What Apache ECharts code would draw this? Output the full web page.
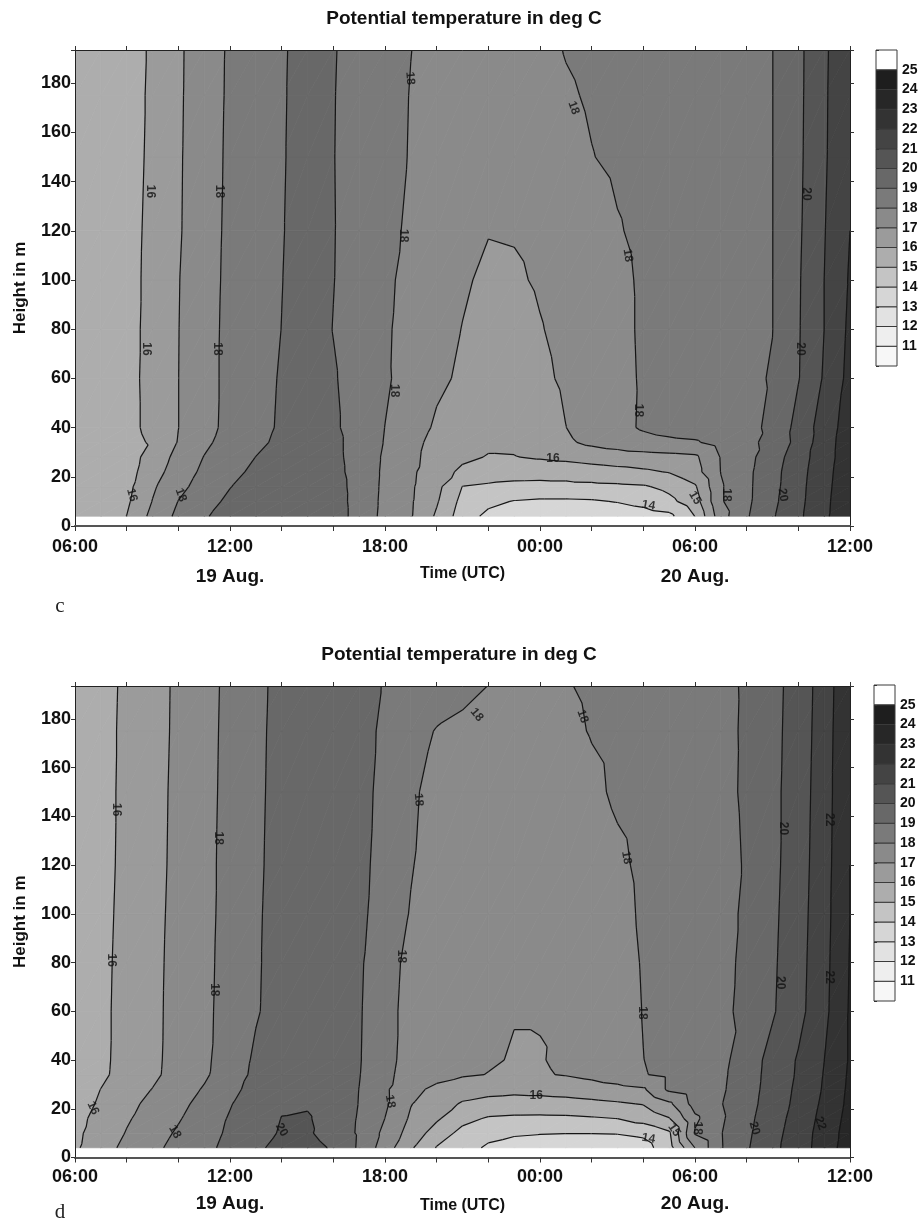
<!DOCTYPE html>
<html><head><meta charset="utf-8">
<script src="https://cdn.jsdelivr.net/npm/echarts/dist/echarts.min.js"></script>
<style>html,body{margin:0;padding:0;background:#fff}#c{width:919px;height:1222px}</style>
</head><body><div id="c"></div>
<script>
// ---------------- data ----------------
const titleText = 'Potential temperature in deg C';
const times = [0,1,2,3,4,5,6,7,8,9,10,11,12,13,14,15,16,17,18,19,20,21,22,23,24,25,26,27,28,29,30]; // hours after 06:00 19 Aug
const heights = [4,10,16,22,28,34,40,60,80,100,120,150,175,193.5]; // m
const timeLabelAt = [0,6,12,18,24,30];
const timeLabelText = ['06:00','12:00','18:00','00:00','06:00','12:00'];
const dateLabelAt = [6,24];
const dateLabelText = ['19 Aug.','20 Aug.'];
const levels = [11,12,13,14,15,16,17,18,19,20,21,22,23,24,25];
const bandColors = ['#f7f7f7','#eeeeee','#e2e2e2','#d6d6d6','#c4c4c4','#adadad','#9b9b9b','#8a8a8a','#7a7a7a','#686868','#555555','#444444','#333333','#272727','#1e1e1e','#ffffff'];

// panel c : potential temperature, rows = heights, cols = times
const thetaC = [
[15.2,15.5,16.01,17.28,18.23,18.9,19.4,19.7,19.9,19.8,19.5,18.63,17.73,17.07,15.86,14.5,13.75,13.5,13.38,13.3,13.3,13.38,13.55,13.75,15.02,17.6,18.9,19.9,20.8,21.8,22.8],
[15.2,15.45,15.83,17.03,18.02,18.63,19.2,19.55,19.8,19.75,19.45,18.63,17.77,17.1,16.1,14.71,14.25,13.95,13.85,13.85,13.9,14.05,14.3,14.75,15.55,17.9,18.8,19.78,20.72,21.77,22.7],
[15.2,15.42,15.71,16.86,17.73,18.4,18.97,19.4,19.75,19.7,19.4,18.64,17.8,17.13,16.27,14.98,14.85,14.78,14.75,14.75,14.78,14.82,14.9,15.25,15.88,17.9,18.79,19.7,20.68,21.72,22.65],
[15.2,15.42,15.59,16.58,17.49,18.2,18.73,19.2,19.65,19.65,19.3,18.63,17.83,17.17,16.44,15.8,15.5,15.35,15.33,15.4,15.55,15.7,15.85,16.05,16.63,18.02,18.77,19.67,20.62,21.67,22.6],
[15.22,15.45,15.51,16.42,17.28,18.03,18.52,19.01,19.6,19.6,19.25,18.62,17.87,17.2,16.67,16.19,15.95,15.97,16.1,16.25,16.4,16.52,16.6,16.7,16.82,18.05,18.7,19.55,20.52,21.59,22.55],
[15.25,15.5,15.72,16.1,17.05,17.8,18.4,18.8,19.2,19.55,19.25,18.6,17.95,17.3,16.7,16.3,16.15,16.15,16.35,16.85,17.2,17.45,17.7,17.82,17.9,18.35,18.75,19.3,20.3,21.55,22.55],
[15.25,15.5,15.78,16.2,16.99,17.7,18.25,18.7,19.12,19.5,19.15,18.6,17.99,17.5,16.85,16.45,16.3,16.3,16.5,16.99,17.4,17.75,18.1,18.3,18.45,18.62,18.8,19.15,20.35,21.45,22.5],
[15.3,15.55,15.8,16.2,16.99,17.7,18.22,18.65,19.08,19.45,19.08,18.6,18.12,17.65,17.2,16.85,16.6,16.5,16.8,17.15,17.45,17.78,18.08,18.3,18.48,18.66,18.85,19.05,19.95,21.1,22.3],
[15.3,15.55,15.8,16.18,16.98,17.68,18.22,18.6,19.01,19.4,18.98,18.58,18.15,17.6,17.3,16.98,16.7,16.65,16.95,17.25,17.5,17.8,18.1,18.3,18.47,18.64,18.82,18.99,19.92,21.0,22.2],
[15.3,15.55,15.8,16.16,16.96,17.65,18.2,18.6,18.98,19.4,19.02,18.6,18.2,17.7,17.35,17.1,16.85,16.88,17.1,17.35,17.6,17.83,18.1,18.28,18.45,18.62,18.8,18.99,19.9,21.0,22.1],
[15.3,15.55,15.78,16.15,16.9,17.62,18.18,18.56,18.95,19.4,19.03,18.65,18.25,17.85,17.5,17.25,17.03,17.06,17.2,17.45,17.7,17.95,18.15,18.3,18.45,18.62,18.8,18.99,19.85,20.95,22.0],
[15.3,15.55,15.75,16.12,16.88,17.6,18.15,18.54,18.92,19.4,19.02,18.67,18.3,17.95,17.7,17.55,17.45,17.5,17.65,17.8,17.98,18.12,18.25,18.4,18.55,18.7,18.85,18.99,19.8,20.87,21.95],
[15.3,15.55,15.75,16.1,16.86,17.56,18.13,18.52,18.9,19.4,19.03,18.68,18.32,17.97,17.72,17.57,17.5,17.55,17.72,17.92,18.07,18.2,18.32,18.45,18.58,18.72,18.86,18.99,19.78,20.85,21.92],
[15.3,15.55,15.75,16.08,16.85,17.53,18.12,18.5,18.88,19.4,19.05,18.69,18.35,18.01,17.75,17.6,17.55,17.6,17.8,18.03,18.15,18.27,18.39,18.51,18.63,18.76,18.88,18.99,19.77,20.82,21.9]
];

// panel d
const thetaD = [
[15.85,16.61,17.24,17.78,18.29,18.76,19.26,19.79,20.35,20.45,19.86,18.87,17.5,16.13,14.94,14.4,13.85,13.6,13.45,13.38,13.35,13.4,13.6,14.6,17.02,18.93,19.9,20.75,21.54,22.44,23.55],
[15.8,16.42,17.05,17.6,18.12,18.64,19.15,19.6,20.1,20.15,19.5,18.9,17.75,16.6,15.56,14.7,14.3,14.12,14.05,14.02,14.02,14.05,14.2,14.85,18.1,18.95,19.82,20.65,21.5,22.4,23.45],
[15.75,16.26,16.9,17.39,17.92,18.5,19.08,19.55,20.02,20.08,19.6,18.92,17.99,16.86,16.14,15.3,14.9,14.82,14.8,14.82,14.9,15.01,15.4,15.95,17.8,18.85,19.75,20.55,21.4,22.3,23.35],
[15.6,16.12,16.78,17.21,17.74,18.31,18.94,19.55,19.9,19.92,19.6,18.97,18.16,17.04,16.45,15.9,15.7,15.6,15.6,15.65,15.75,15.88,16.05,16.8,18.4,18.95,19.65,20.45,21.27,22.2,23.25],
[15.55,16.01,16.53,17.02,17.55,18.08,18.76,19.3,19.65,19.75,19.5,18.99,18.15,17.25,16.8,16.45,16.3,16.25,16.3,16.4,16.55,16.7,16.88,18.2,18.6,18.85,19.58,20.4,21.2,22.1,23.2],
[15.45,15.82,16.36,16.83,17.33,17.85,18.55,19.2,19.5,19.62,19.45,19.04,18.2,17.65,17.3,17.1,16.98,16.9,16.93,17.05,17.25,17.55,17.95,18.2,18.5,18.8,19.55,20.35,21.12,22.05,23.15],
[15.4,15.8,16.33,16.81,17.31,17.82,18.46,19.15,19.45,19.6,19.45,19.07,18.25,17.7,17.4,17.2,17.08,16.95,16.97,17.1,17.3,17.6,17.99,18.25,18.5,18.72,19.52,20.31,21.09,21.99,23.1],
[15.35,15.8,16.3,16.8,17.28,17.8,18.35,18.92,19.38,19.55,19.5,19.1,18.25,17.75,17.4,17.15,17.05,17.03,17.03,17.08,17.25,17.55,18.03,18.35,18.6,18.82,19.2,19.9,20.7,21.75,23.1],
[15.35,15.78,16.28,16.78,17.27,17.78,18.32,18.9,19.35,19.55,19.52,19.15,18.3,17.8,17.45,17.2,17.05,17.03,17.03,17.1,17.3,17.6,18.07,18.4,18.6,18.8,19.15,19.85,20.65,21.7,23.05],
[15.35,15.75,16.25,16.75,17.25,17.75,18.3,18.88,19.35,19.55,19.55,19.25,18.5,17.95,17.55,17.3,17.15,17.05,17.05,17.15,17.35,17.65,18.15,18.45,18.62,18.8,19.1,19.8,20.6,21.65,23.0],
[15.35,15.72,16.22,16.72,17.22,17.75,18.28,18.85,19.32,19.55,19.58,19.3,18.6,18.05,17.65,17.4,17.25,17.18,17.2,17.3,17.5,17.8,18.2,18.45,18.62,18.8,19.05,19.75,20.55,21.6,23.0],
[15.4,15.72,16.2,16.7,17.2,17.72,18.26,18.82,19.3,19.55,19.6,19.35,18.7,18.1,17.8,17.5,17.35,17.3,17.35,17.5,17.8,18.15,18.35,18.52,18.68,18.85,19.08,19.75,20.5,21.55,22.95],
[15.4,15.72,16.18,16.67,17.17,17.7,18.24,18.8,19.28,19.55,19.62,19.38,18.8,18.35,17.95,17.8,17.7,17.62,17.6,17.8,18.05,18.22,18.38,18.53,18.7,18.86,19.07,19.72,20.45,21.5,22.95],
[15.4,15.7,16.16,16.66,17.16,17.68,18.22,18.78,19.25,19.55,19.65,19.4,18.93,18.7,18.47,18.23,17.99,17.75,17.7,17.95,18.12,18.27,18.42,18.57,18.72,18.87,19.06,19.69,20.42,21.46,22.9]
];

// contour labels: [time, height, text, rotation]
const labelsC = [
[2.9,136,'16',-90],[5.6,136,'18',-90],[12.97,182,'18',-85],[12.7,118,'18',-90],[19.3,170,'18',-70],[21.4,110,'18',-80],[28.3,135,'20',-90],
[2.77,72,'16',-90],[5.5,72,'18',-90],[12.35,55,'18',-90],[21.8,47,'18',-90],[28.07,72,'20',-90],
[2.2,12.6,'16',-75],[4.1,12.6,'18',-70],[18.5,27.5,'16',0],[22.2,8.4,'14',-10],[24.0,11.4,'15',-60],[25.2,12.6,'18',-90],[27.4,12.6,'20',-80]
];
const labelsD = [
[1.6,142.7,'16',-90],[5.55,131,'18',-90],[13.3,146.8,'18',-85],[15.55,181.7,'18',-50],[19.65,181,'18',-70],[21.35,123,'18',-80],[27.4,135,'20',-90],[29.2,138.6,'22',-90],
[1.4,81,'16',-90],[5.4,68.8,'18',-90],[12.65,82.5,'18',-90],[21.95,59.3,'18',-90],[27.3,71.7,'20',-90],[29.2,74,'22',-90],
[0.7,20.3,'16',-65],[3.87,10.5,'18',-60],[8.0,11.3,'20',-60],[12.2,23,'18',-80],[17.85,25.5,'16',0],[22.2,7.8,'14',-10],[23.2,11.3,'15',-55],[24.1,12,'18',-90],[26.3,12,'20',-75],[28.85,14,'22',-70]
];

// ---------------- rendering helpers ----------------
const FONT = '"Liberation Sans", Arial, Helvetica, sans-serif';
const bandEdges = [-Infinity].concat(levels).concat([Infinity]);

function clipPoly(poly, L, keepAbove) {
  const out = [];
  for (let n = 0; n < poly.length; n++) {
    const p = poly[n], q = poly[(n + 1) % poly.length];
    const pin = keepAbove ? p[2] >= L : p[2] <= L;
    const qin = keepAbove ? q[2] >= L : q[2] <= L;
    if (pin) out.push(p);
    if (pin !== qin) {
      const f = (L - p[2]) / (q[2] - p[2]);
      out.push([p[0] + f * (q[0] - p[0]), p[1] + f * (q[1] - p[1]), L]);
    }
  }
  return out;
}
function cellTriangles(api, field) {
  const i = api.value(2), j = api.value(3);
  const P = (a, b) => { const c = api.coord([times[a], heights[b]]); return [c[0], c[1], field[b][a]]; };
  const p00 = P(i, j), p10 = P(i + 1, j), p11 = P(i + 1, j + 1), p01 = P(i, j + 1);
  return [[p00, p10, p11], [p00, p11, p01]];
}
function fillRender(field) {
  return function (params, api) {
    const children = [];
    cellTriangles(api, field).forEach(tri => {
      const vs = tri.map(p => p[2]);
      const mn = Math.min.apply(null, vs), mx = Math.max.apply(null, vs);
      for (let k = 0; k < bandColors.length; k++) {
        const lo = bandEdges[k], hi = bandEdges[k + 1];
        if (hi <= mn || lo > mx) continue;
        let poly = tri;
        if (isFinite(lo)) poly = clipPoly(poly, lo, true);
        if (poly.length >= 3 && isFinite(hi)) poly = clipPoly(poly, hi, false);
        if (poly.length < 3) continue;
        children.push({ type: 'polygon', shape: { points: poly.map(p => [p[0], p[1]]) },
          style: { fill: bandColors[k], stroke: bandColors[k], lineWidth: 0.8 } });
      }
    });
    return { type: 'group', children: children };
  };
}
function lineRender(field) {
  return function (params, api) {
    const children = [];
    cellTriangles(api, field).forEach(tri => {
      levels.forEach(L => {
        const pts = [];
        [[0, 1], [1, 2], [2, 0]].forEach(e => {
          const a = tri[e[0]], b = tri[e[1]];
          if ((a[2] >= L) !== (b[2] >= L)) {
            const f = (L - a[2]) / (b[2] - a[2]);
            pts.push([a[0] + f * (b[0] - a[0]), a[1] + f * (b[1] - a[1])]);
          }
        });
        if (pts.length === 2) children.push({ type: 'line',
          shape: { x1: pts[0][0], y1: pts[0][1], x2: pts[1][0], y2: pts[1][1] },
          style: { stroke: '#151515', lineWidth: 1.2 } });
      });
    });
    return { type: 'group', children: children };
  };
}
const cellData = [];
for (let j = 0; j < heights.length - 1; j++)
  for (let i = 0; i < times.length - 1; i++)
    cellData.push([times[i], heights[j], i, j]);

const barData = bandColors.map((c, k) => [0.5, (k === 0 ? levels[0] - 1 : bandEdges[k]) + 0.5, k]);
function barRender(params, api) {
  const k = api.value(2);
  const lo = k === 0 ? levels[0] - 1 : bandEdges[k];
  const hi = k === bandColors.length - 1 ? levels[levels.length - 1] + 1 : bandEdges[k + 1];
  const a = api.coord([0, lo]), b = api.coord([1, hi]);
  return { type: 'rect', shape: { x: a[0], y: b[1], width: b[0] - a[0], height: a[1] - b[1] },
    style: { fill: bandColors[k], stroke: '#3a3a3a', lineWidth: 1 } };
}
function fmtX(v) {
  const k = timeLabelAt.indexOf(v);
  if (k < 0) return '';
  let s = '{t|' + timeLabelText[k] + '}';
  const d = dateLabelAt.indexOf(v);
  if (d >= 0) s += '\n{d|' + dateLabelText[d] + '}';
  return s;
}
const fmtY = v => (v % 20 === 0 ? String(v) : '');
const fmtBar = v => (v >= levels[0] && v <= levels[levels.length - 1] ? String(v) : '');

function bottomAxis(gi, lh) {
  return { gridIndex: gi, type: 'value', min: 0, max: 30, interval: 2, position: 'bottom', z: 10,
    axisLine: { show: true, onZero: false, lineStyle: { color: '#555', width: 2 } },
    axisTick: { show: true, length: 5, lineStyle: { color: '#333', width: 1 } },
    splitLine: { show: false },
    axisLabel: { margin: 7, formatter: fmtX, color: '#111',
      rich: { t: { fontSize: 18, fontWeight: 'bold', fontFamily: FONT, lineHeight: lh, color: '#111' },
              d: { fontSize: 19, fontWeight: 'bold', fontFamily: FONT, lineHeight: lh, color: '#111' } } },
    name: 'Time (UTC)', nameLocation: 'middle', nameGap: 40, nameMoveOverlap: false,
    nameTextStyle: { fontSize: 16, fontWeight: 'bold', fontFamily: FONT, color: '#111' } };
}
function topAxis(gi) {
  return { gridIndex: gi, type: 'value', min: 0, max: 30, interval: 2, position: 'top', z: 10,
    axisLine: { show: true, onZero: false, lineStyle: { color: '#222', width: 1 } },
    axisTick: { show: true, length: 4, lineStyle: { color: '#333' } },
    splitLine: { show: false }, axisLabel: { show: false } };
}
function leftAxis(gi) {
  return { gridIndex: gi, type: 'value', min: 0, max: 193.5, interval: 20, position: 'left', z: 10,
    axisLine: { show: true, onZero: false, lineStyle: { color: '#222', width: 1 } },
    axisTick: { show: true, length: 4, lineStyle: { color: '#333' } },
    splitLine: { show: false },
    axisLabel: { margin: 4, formatter: fmtY, fontSize: 18, fontWeight: 'bold', fontFamily: FONT, color: '#111' },
    name: 'Height in m', nameLocation: 'middle', nameGap: 46, nameRotate: 90, nameMoveOverlap: false,
    nameTextStyle: { fontSize: 17, fontWeight: 'bold', fontFamily: FONT, color: '#111' } };
}
function rightAxis(gi) {
  return { gridIndex: gi, type: 'value', min: 0, max: 193.5, interval: 20, position: 'right', z: 10,
    axisLine: { show: true, onZero: false, lineStyle: { color: '#222', width: 1 } },
    axisTick: { show: true, length: 4, lineStyle: { color: '#333' } },
    splitLine: { show: false }, axisLabel: { show: false } };
}
function barXAxis(gi) { return { gridIndex: gi, type: 'value', min: 0, max: 1, show: false }; }
function barYAxis(gi) {
  return { gridIndex: gi, type: 'value', min: levels[0] - 1, max: levels[levels.length - 1] + 1, interval: 1, position: 'right', z: 10,
    axisLine: { show: false }, axisTick: { show: true, length: 3, lineStyle: { color: '#333' } },
    splitLine: { show: false },
    axisLabel: { margin: 5, formatter: fmtBar, fontSize: 14, fontWeight: 'bold', fontFamily: FONT, color: '#111' } };
}
function labelSeries(xi, yi, arr) {
  return { type: 'scatter', xAxisIndex: xi, yAxisIndex: yi, symbolSize: 0, silent: true, z: 5,
    data: arr.map(a => ({ name: a[2], value: [a[0], a[1]], label: { rotate: a[3] } })),
    label: { show: true, position: 'inside', formatter: '{b}', fontSize: 12, fontWeight: 'bold', fontFamily: FONT, color: '#111' } };
}

const option = {
  animation: false,
  backgroundColor: '#ffffff',
  grid: [
    { left: 75, top: 50, width: 775, height: 476, outerBoundsMode: 'none', containLabel: false },
    { left: 75, top: 686, width: 775, height: 471.5, outerBoundsMode: 'none', containLabel: false },
    { left: 876, top: 50, width: 21, height: 316, outerBoundsMode: 'none', containLabel: false },
    { left: 874, top: 685, width: 21, height: 316, outerBoundsMode: 'none', containLabel: false }
  ],
  xAxis: [bottomAxis(0, 29), topAxis(0), bottomAxis(1, 26), topAxis(1), barXAxis(2), barXAxis(3)],
  yAxis: [leftAxis(0), rightAxis(0), leftAxis(1), rightAxis(1), barYAxis(2), barYAxis(3)],
  graphic: [
    { type: 'text', x: 464, y: 19, style: { text: titleText, align: 'center', verticalAlign: 'middle', fontSize: 19, fontWeight: 'bold', fontFamily: FONT, fill: '#111' } },
    { type: 'text', x: 459, y: 655, style: { text: titleText, align: 'center', verticalAlign: 'middle', fontSize: 19, fontWeight: 'bold', fontFamily: FONT, fill: '#111' } },
    { type: 'text', x: 60, y: 606, style: { text: 'c', align: 'center', verticalAlign: 'middle', fontSize: 21, fontFamily: '"Liberation Serif", "Times New Roman", serif', fill: '#222' } },
    { type: 'text', x: 60, y: 1212, style: { text: 'd', align: 'center', verticalAlign: 'middle', fontSize: 21, fontFamily: '"Liberation Serif", "Times New Roman", serif', fill: '#222' } }
  ],
  series: [
    { type: 'custom', xAxisIndex: 0, yAxisIndex: 0, data: cellData, renderItem: fillRender(thetaC), silent: true, z: 2, progressive: 0, clip: true },
    { type: 'custom', xAxisIndex: 0, yAxisIndex: 0, data: cellData, renderItem: lineRender(thetaC), silent: true, z: 3, progressive: 0, clip: true },
    labelSeries(0, 0, labelsC),
    { type: 'custom', xAxisIndex: 2, yAxisIndex: 2, data: cellData, renderItem: fillRender(thetaD), silent: true, z: 2, progressive: 0, clip: true },
    { type: 'custom', xAxisIndex: 2, yAxisIndex: 2, data: cellData, renderItem: lineRender(thetaD), silent: true, z: 3, progressive: 0, clip: true },
    labelSeries(2, 2, labelsD),
    { type: 'custom', xAxisIndex: 4, yAxisIndex: 4, data: barData, renderItem: barRender, silent: true, z: 2, progressive: 0 },
    { type: 'custom', xAxisIndex: 5, yAxisIndex: 5, data: barData, renderItem: barRender, silent: true, z: 2, progressive: 0 }
  ]
};
const chart = echarts.init(document.getElementById('c'), null, { renderer: 'canvas', width: 919, height: 1222 });
chart.setOption(option);
</script>
</body></html>
